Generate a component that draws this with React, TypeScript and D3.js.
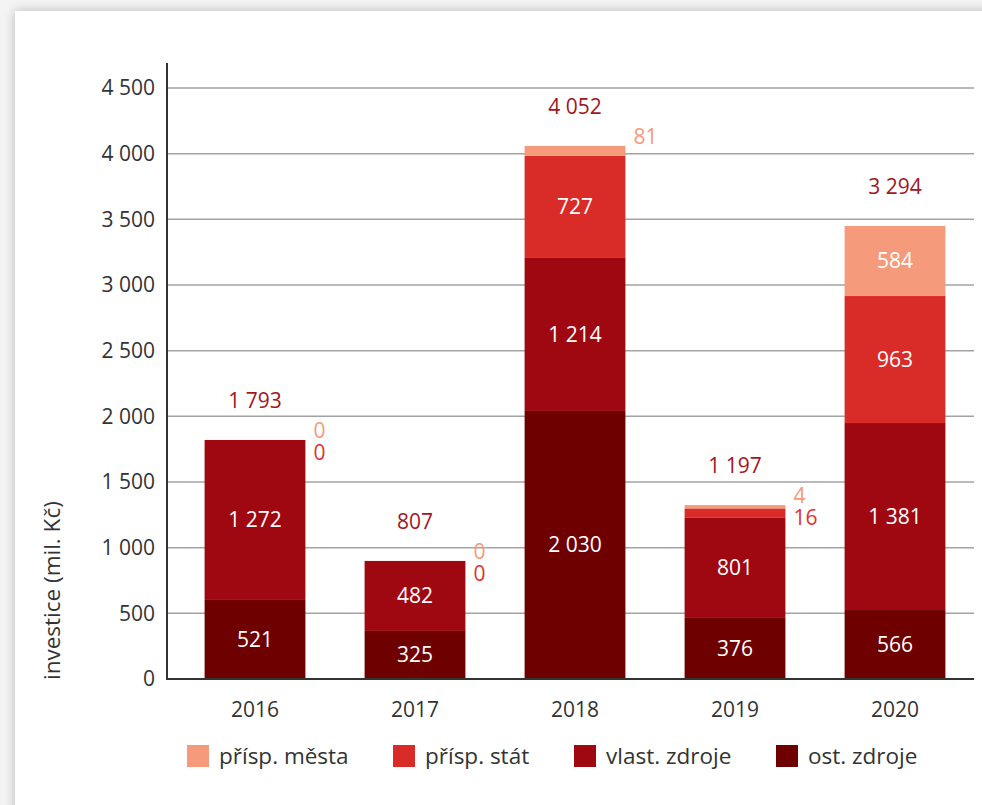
import React from "react";
import * as d3 from "d3";

const years = ["2016", "2017", "2018", "2019", "2020"];
const seriesNames = ["ost. zdroje", "vlast. zdroje", "přísp. stát", "přísp. města"];
// bar heights as drawn in the picture
const ostZdroje = [602, 366, 2041, 465, 525];
const vlastZdroje = [1218, 533, 1165, 766, 1424];
const prispStat = [0, 0, 777, 68, 967];
const prispMesta = [0, 0, 76, 25, 533];
// numbers as printed in the picture
const ostLabels = [521, 325, 2030, 376, 566];
const vlastLabels = [1272, 482, 1214, 801, 1381];
const statLabels = [0, 0, 727, 16, 963];
const mestaLabels = [0, 0, 81, 4, 584];
const totalLabels = [1793, 807, 4052, 1197, 3294];
const yTicks = [0, 500, 1000, 1500, 2000, 2500, 3000, 3500, 4000, 4500];
const legendOrder = ["přísp. města", "přísp. stát", "vlast. zdroje", "ost. zdroje"];

const labelsBySeries: Record<string, number[]> = {
  "ost. zdroje": ostLabels,
  "vlast. zdroje": vlastLabels,
  "přísp. stát": statLabels,
  "přísp. města": mestaLabels,
};

const colors: Record<string, string> = {
  "přísp. města": "#f59a7b",
  "přísp. stát": "#d92b27",
  "vlast. zdroje": "#9f0811",
  "ost. zdroje": "#6f0000",
};

const W = 982;
const H = 805;
const FONT = "'Open Sans', 'Noto Sans', sans-serif";

const fmt = (v: number) => {
  const s = String(Math.round(v));
  return s.replace(/\B(?=(\d{3})+(?!\d))/g, "\u00a0");
};

export default function App() {
  const rows = years.map((y, i) => ({
    year: y,
    "ost. zdroje": ostZdroje[i],
    "vlast. zdroje": vlastZdroje[i],
    "přísp. stát": prispStat[i],
    "přísp. města": prispMesta[i],
  }));
  const stacked = d3.stack<any>().keys(seriesNames)(rows);

  const x = d3.scaleBand<string>().domain(years).range([175, 975]).paddingInner(0.37).paddingOuter(0.185);
  const y = d3.scaleLinear().domain([0, 4500]).range([679, 88]);
  const xLeft = 167;
  const xRight = 974;

  const smallThreshold = 100;

  return (
    <div style={{ position: "fixed", left: 0, top: 0, width: W, height: H }}>
      <svg width={W} height={H} style={{ display: "block", fontFamily: FONT }}>
        <defs>
          <filter id="shadow" x="-5%" y="-5%" width="110%" height="110%">
            <feGaussianBlur in="SourceAlpha" stdDeviation="6" />
            <feOffset dx="0" dy="0" />
            <feComponentTransfer>
              <feFuncA type="linear" slope="0.25" />
            </feComponentTransfer>
            <feMerge>
              <feMergeNode />
              <feMergeNode in="SourceGraphic" />
            </feMerge>
          </filter>
        </defs>
        <rect x={0} y={0} width={W} height={H} fill="#f4f4f4" />
        <rect x={15} y={11} width={W + 40} height={H + 40} fill="#fff" filter="url(#shadow)" />

        {/* gridlines */}
        {yTicks.filter((t) => t > 0).map((t) => (
          <line key={t} x1={xLeft} x2={xRight} y1={y(t)} y2={y(t)} stroke="#a3a3a3" strokeWidth={1.5} />
        ))}

        {/* bars */}
        {stacked.map((s) =>
          s.map((d, i) => {
            const v = d[1] - d[0];
            if (v <= 0) return null;
            return (
              <rect
                key={s.key + i}
                x={x(years[i])}
                width={x.bandwidth()}
                y={y(d[1])}
                height={y(d[0]) - y(d[1])}
                fill={colors[s.key]}
              />
            );
          })
        )}

        {/* inside labels */}
        {stacked.map((s) =>
          s.map((d, i) => {
            const lab = labelsBySeries[s.key][i];
            if (lab < smallThreshold) return null;
            return (
              <text
                key={"l" + s.key + i}
                x={(x(years[i]) as number) + x.bandwidth() / 2}
                y={(y(d[0]) + y(d[1])) / 2}
                dy="0.35em"
                textAnchor="middle"
                fill="#fff"
                fontSize={21}
              >
                {fmt(lab)}
              </text>
            );
          })
        )}

        {/* outside small labels */}
        {years.map((yr, i) => {
          const top = d3.sum(seriesNames, (k) => (rows[i] as any)[k]);
          const xr = (x(yr) as number) + x.bandwidth() + 8;
          const out: any[] = [];
          if (mestaLabels[i] < smallThreshold) {
            out.push(
              <text key={"m" + i} x={xr} y={y(top) - 2} fill={colors["přísp. města"]} fontSize={21}>
                {fmt(mestaLabels[i])}
              </text>
            );
          }
          if (statLabels[i] < smallThreshold) {
            out.push(
              <text key={"s" + i} x={xr} y={y(top) + 20} fill="#e0332d" fontSize={21}>
                {fmt(statLabels[i])}
              </text>
            );
          }
          return <g key={"o" + i}>{out}</g>;
        })}

        {/* totals */}
        {years.map((yr, i) => {
          const top = d3.sum(seriesNames, (k) => (rows[i] as any)[k]);
          return (
            <text
              key={"t" + i}
              x={(x(yr) as number) + x.bandwidth() / 2}
              y={y(top) - 32}
              textAnchor="middle"
              fill="#a2161d"
              fontSize={21}
            >
              {fmt(totalLabels[i])}
            </text>
          );
        })}

        {/* axes */}
        <line x1={xLeft} x2={xLeft} y1={63} y2={y(0)} stroke="#333" strokeWidth={2} />
        <line x1={xLeft - 1} x2={xRight} y1={y(0)} y2={y(0)} stroke="#333" strokeWidth={2} />
        {yTicks.map((t) => (
          <text key={"yt" + t} x={155} y={y(t)} dy="0.35em" textAnchor="end" fill="#333" fontSize={21}>
            {fmt(t)}
          </text>
        ))}
        {years.map((yr) => (
          <text
            key={"xt" + yr}
            x={(x(yr) as number) + x.bandwidth() / 2}
            y={717}
            textAnchor="middle"
            fill="#333"
            fontSize={21}
          >
            {yr}
          </text>
        ))}
        <text transform={`translate(60,680) rotate(-90)`} textAnchor="start" fill="#333" fontSize={22.5}>
          investice (mil. Kč)
        </text>

        {/* legend */}
        {legendOrder.map((k, i) => {
          const lx = [187, 393, 574, 776][i];
          return (
            <g key={"lg" + k} transform={`translate(${lx},745)`}>
              <rect x={0} y={0} width={22} height={22} fill={colors[k]} />
              <text x={32} y={11} dy="0.35em" fill="#333" fontSize={22.5}>
                {k}
              </text>
            </g>
          );
        })}
      </svg>
    </div>
  );
}
